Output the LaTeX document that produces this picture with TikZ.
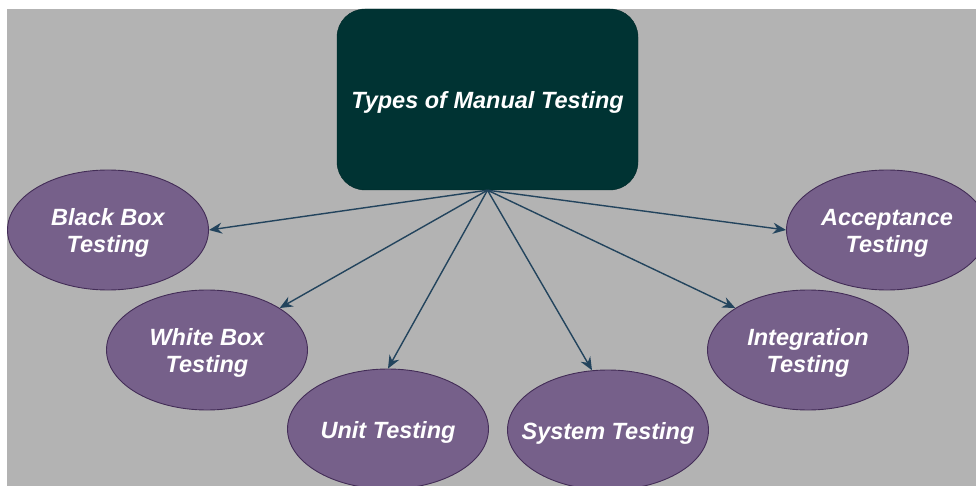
\documentclass[tikz,border=0pt]{standalone}
\usepackage{fontspec}
\setmainfont{Liberation Sans}
\usetikzlibrary{shapes.geometric,arrows.meta}
\definecolor{canvas}{HTML}{B3B3B3}
\definecolor{headfill}{HTML}{003333}
\definecolor{leaffill}{HTML}{76608A}
\definecolor{leafline}{HTML}{432D57}
\definecolor{linkcol}{HTML}{23445D}
% zero-width label so the ellipse keeps its fixed size;
% the tall strut in the first row sets the lines a little lower
\newcommand{\leaftext}[1]{\makebox[0pt][c]{\begin{tabular}{@{}c@{}}\rule{0pt}{26.9pt}#1\end{tabular}}}
\tikzset{
  lbl/.style={text=white, font=\fontsize{23.5}{27}\selectfont\bfseries\itshape, align=center},
  head/.style={lbl, rectangle, rounded corners=28pt, fill=headfill, draw=headfill!80!black,
    minimum width=301pt, minimum height=181pt, inner sep=0pt},
  leaf/.style={lbl, ellipse, fill=leaffill, draw=leafline, line width=0.9pt,
    minimum width=201pt, minimum height=120pt, inner sep=0pt},
  link/.style={draw=linkcol, line width=1.4pt, -{Stealth[length=13pt,width=11pt]}}
}
\begin{document}
\begin{tikzpicture}[x=1pt,y=-1pt]
  \useasboundingbox (0,0) rectangle (976,486);
  \fill[white] (0,0) rectangle (976,486);
  \fill[canvas] (7,9) rectangle (976,486);
  \begin{scope}
    \clip (7,9) rectangle (976,486);
    \node[head] (root) at (487.5,99.5) {\rule{0pt}{23pt}Types of Manual Testing};
    \node[leaf] (black) at (108,230) {\leaftext{Black Box\\Testing}};
    \node[leaf] (white) at (207,350) {\leaftext{White Box\\Testing}};
    \node[leaf] (unit) at (388,429) {\leaftext{Unit Testing}};
    \node[leaf] (system) at (608,430) {\leaftext{System Testing}};
    \node[leaf] (integ) at (808,350) {\leaftext{Integration\\Testing}};
    \node[leaf] (accept) at (887,230) {\leaftext{Acceptance\\Testing}};
    \draw[link] (root.south) -- (black.east);
    \draw[link] (root.south) -- (white.30);
    \draw[link] (root.south) -- (unit.north);
    \draw[link] (root.south) -- (system.105);
    \draw[link] (root.south) -- (integ.150);
    \draw[link] (root.south) -- (accept.west);
  \end{scope}
\end{tikzpicture}
\end{document}
